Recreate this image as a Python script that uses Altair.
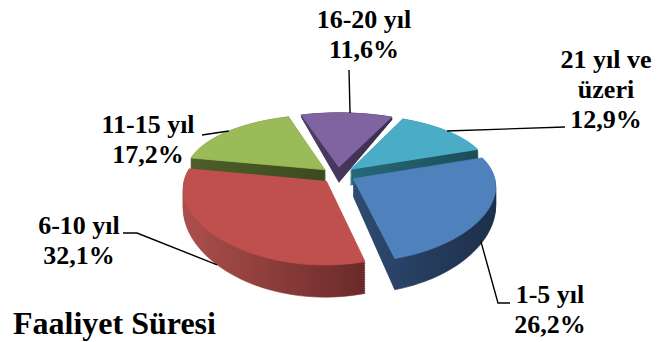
import altair as alt
import pandas as pd

# ---------------- data ----------------
categories = ["1-5 yıl", "6-10 yıl", "11-15 yıl", "16-20 yıl", "21 yıl ve üzeri"]
percent = [26.2, 32.1, 17.2, 11.6, 12.9]
label_lines = [["1-5 yıl"], ["6-10 yıl"], ["11-15 yıl"], ["16-20 yıl"], ["21 yıl ve", "üzeri"]]
title_text = "Faaliyet Süresi"

# ---------------- style / layout ----------------
top_colors = ["#4F81BD", "#C0504D", "#9BBB59", "#8064A2", "#4BACC6"]
side_light = ["#2F4B72", "#AC4F4C", "#4E5E2A", "#4E3D66", "#27697A"]
side_dark = ["#1D2F4A", "#6A2A29", "#3C4A1F", "#3A2D4D", "#1C4C58"]
FONT = "Liberation Serif"

W, H = 661, 342
CX, CY = 338, 175          # pie centre (pixels)
RX, RY = 141, 66.6         # radii of the tilted pie
PERSP_X, PERSP_Y = 0.10, 0.179   # perspective strength
EXPLODE = 0.12             # explode distance (in radius units)
D0, D1 = 17, 14            # side thickness model
START_DEG = 71             # angle of first slice
NSEG = 48
NLAYER = 14

label_x = [550, 79, 148, 364, 606]
label_y = [303, 234, 133, 28, 68]
leader_deg = [122, 225, 312, 5, 48]
leader_t = [0.9, 1.0, 0.0, 0.0, 0.0]
elbow_x = [498, 137, 202, 349, 565]
elbow_y = [303, 233, 135, 70, 127]
end_x = [510, 123, 202, 349, 565]
end_y = [303, 233, 135, 70, 127]

slices_df = pd.DataFrame({
    "cat": categories,
    "value": percent,
    "idx": list(range(len(categories))),
    "ldeg": leader_deg,
    "lt": leader_t,
    "ex": elbow_x,
    "ey": elbow_y,
    "lx": end_x,
    "ly": end_y,
})

labels_df = pd.DataFrame({
    "text": ["\n".join(l) + "\n" + f"{p:.1f}".replace(".", ",") + "%" for l, p in zip(label_lines, percent)],
    "px": label_x,
    "py": label_y,
})

X = alt.X("px:Q", scale=alt.Scale(domain=[0, W], nice=False, zero=False), axis=None)
Y = alt.Y("py:Q", scale=alt.Scale(domain=[0, H], nice=False, zero=False, reverse=True), axis=None)


def geom(chart):
    return (
        chart.transform_window(cum="sum(value)", sort=[alt.SortField("idx", order="ascending")], frame=[None, 0])
        .transform_joinaggregate(total="sum(value)")
        .transform_calculate(a0=f"{START_DEG}*PI/180 + 2*PI*(datum.cum - datum.value)/datum.total")
        .transform_calculate(a1=f"{START_DEG}*PI/180 + 2*PI*datum.cum/datum.total")
        .transform_calculate(mid="(datum.a0 + datum.a1)/2")
    )


def project(chart, theta, r, t):
    return (
        chart.transform_calculate(u=f"({r})*sin({theta}) + {EXPLODE}*sin(datum.mid)")
        .transform_calculate(v=f"-({r})*cos({theta}) - {EXPLODE}*cos(datum.mid)")
        .transform_calculate(px=f"{CX} + {RX}*datum.u/(1 - {PERSP_X}*datum.v)")
        .transform_calculate(
            py=f"{CY} + {RY}*datum.v/(1 - {PERSP_Y}*datum.v) + ({t})*max(0, {D0} + {D1}*datum.v)"
        )
    )


def slice_points(chart):
    return (
        chart.transform_calculate(steps=f"sequence(0, {NSEG + 2})")
        .transform_flatten(["steps"], as_=["i"])
        .transform_calculate(r="datum.i == 0 ? 0 : 1")
        .transform_calculate(ang=f"datum.a0 + (datum.i - 1)/{NSEG}*(datum.a1 - datum.a0)")
    )


base = alt.Chart(slices_df)

# side (extrusion) layers, one per slice with shading
side_layers = []
for k in range(len(categories)):
    grad = alt.Gradient(
        gradient="linear",
        stops=[alt.GradientStop(color=side_light[k], offset=0), alt.GradientStop(color=side_dark[k], offset=1)],
        x1=0, x2=1, y1=0, y2=0,
    )
    s = geom(base).transform_filter(f"datum.idx == {k}")
    s = s.transform_calculate(layers=f"sequence(1, {NLAYER + 1})").transform_flatten(
        ["layers"], as_=["layer"]
    ).transform_calculate(t=f"datum.layer/{NLAYER}")
    s = project(slice_points(s), "datum.ang", "datum.r", "datum.t")
    s = s.mark_line(fill=grad, stroke=grad, strokeWidth=0.6, strokeJoin="round").encode(
        x=X, y=Y, order=alt.Order("i:Q"), detail="layer:N"
    )
    side_layers.append(s)

# top faces
tops = project(slice_points(geom(base)), "datum.ang", "datum.r", "0")
tops = tops.mark_line(strokeWidth=0.8, strokeJoin="round").encode(
    x=X,
    y=Y,
    order=alt.Order("i:Q"),
    detail="cat:N",
    fill=alt.Fill("cat:N", scale=alt.Scale(domain=categories, range=top_colors), legend=None),
    stroke=alt.Stroke("cat:N", scale=alt.Scale(domain=categories, range=top_colors), legend=None),
)

# leader lines
leaders = project(geom(base), "datum.ldeg*PI/180", "1", "datum.lt")
leaders = (
    leaders.transform_calculate(sx="datum.px", sy="datum.py")
    .transform_calculate(js="sequence(0, 3)")
    .transform_flatten(["js"], as_=["j"])
    .transform_calculate(px="datum.j == 0 ? datum.sx : (datum.j == 1 ? datum.ex : datum.lx)")
    .transform_calculate(py="datum.j == 0 ? datum.sy : (datum.j == 1 ? datum.ey : datum.ly)")
    .mark_line(color="black", strokeWidth=1.4)
    .encode(x=X, y=Y, order=alt.Order("j:Q"), detail="cat:N")
)

labels = alt.Chart(labels_df).mark_text(
    font=FONT,
    fontWeight="bold",
    fontSize=26,
    lineHeight=30,
    lineBreak="\n",
    align="center",
    baseline="alphabetic",
    color="black",
).encode(x=X, y=Y, text="text:N")

title = alt.Chart(pd.DataFrame({"t": [title_text]})).mark_text(
    font=FONT,
    fontWeight="bold",
    fontSize=32,
    align="left",
    baseline="alphabetic",
    color="black",
).encode(x=alt.value(13), y=alt.value(334), text="t:N")

chart = (
    alt.layer(*side_layers, tops, leaders, labels, title)
    .resolve_scale(fill="independent", stroke="independent")
    .properties(width=W, height=H, padding=0, autosize="none")
    .configure_view(stroke=None)
)

chart.save("out.html", embed_options={"renderer": "svg", "actions": False})
